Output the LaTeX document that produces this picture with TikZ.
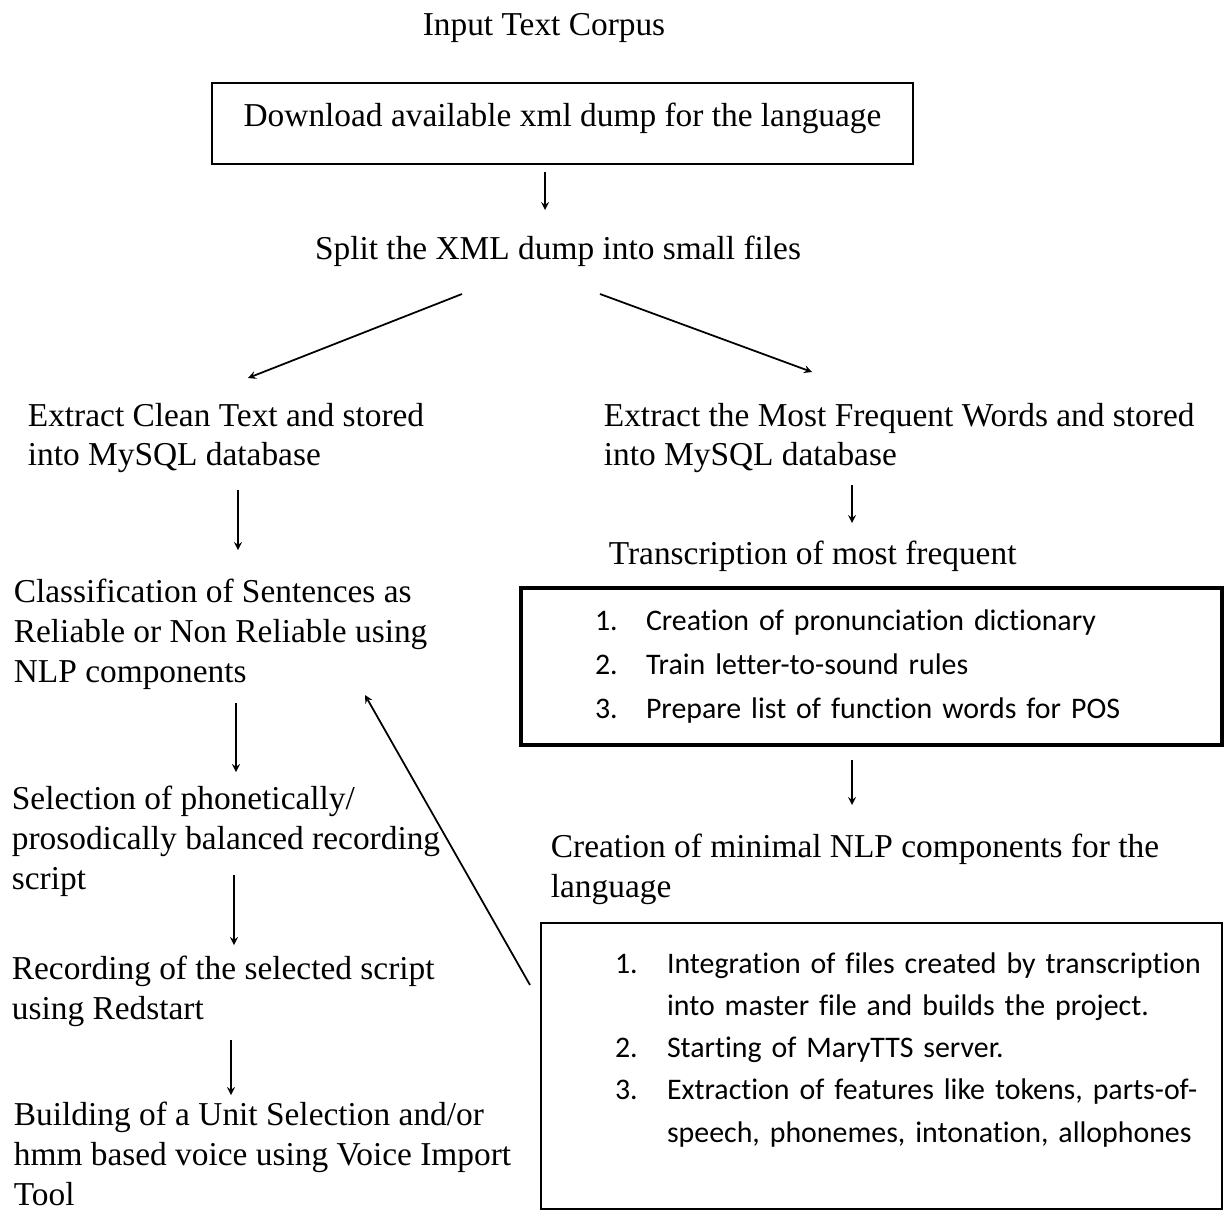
\documentclass[tikz,border=0pt]{standalone}
\usepackage{fontspec}
\setmainfont{Liberation Serif}
\newfontfamily\listfont[Ligatures=NoCommon]{Carlito}
\usetikzlibrary{positioning}

\begin{document}
\begin{tikzpicture}[x=0.02cm, y=-0.02cm, line width=1pt]
		\tikzstyle{txt}=[inner sep=0pt, align=left, font=\fontsize{19}{22.7}\selectfont]
		\tikzstyle{listbox}=[draw, inner xsep=1.48cm, inner ysep=0pt, align=left]
		\tikzstyle{arr}=[-stealth, line width=1pt]
		\useasboundingbox (0,0) rectangle (1225,1211);
		\node[txt] (corpus) at (544,28) {Input Text Corpus};
		\node[txt, draw, line width=1.1pt, minimum width=14.02cm, minimum height=1.62cm,
			text height=14pt, text depth=10.5pt] (dump) at (562.5,123.5) {Download available xml dump for the language};
		\node[txt] (split) at (558,251) {Split the XML dump into small files};
		\node[txt, anchor=west] (clean) at (27,438) {Extract Clean Text and stored\\into MySQL database};
		\node[txt, anchor=west] (freq) at (603,438) {Extract the Most Frequent Words and stored\\into MySQL database};
		\node[txt, anchor=west] (trans) at (608,556) {Transcription of most frequent};
		\node[listbox, line width=2.2pt, minimum width=14.02cm, minimum height=3.14cm, text width=11.06cm,
			font=\listfont\fontsize{17}{25}\selectfont] (lexbox) at (871.5,666.5)
		{\mbox{\makebox[1.02cm][l]{1.}Creation of pronunciation dictionary}\\
		 \mbox{\makebox[1.02cm][l]{2.}Train letter-to-sound rules}\\
		 \mbox{\makebox[1.02cm][l]{3.}Prepare list of function words for POS}};
		\node[txt, anchor=west] (minnlp) at (550,869) {Creation of minimal NLP components for the\\language};
		\node[listbox, line width=1.6pt, minimum width=13.62cm, minimum height=5.72cm, text width=10.66cm,
			font=\listfont\fontsize{17}{24}\selectfont] (marybox) at (881.5,1066)
		{\mbox{\makebox[1.04cm][l]{1.}Integration of files created by transcription}\\
		 \mbox{\hspace*{1.04cm}into master file and builds the project.}\\
		 \mbox{\makebox[1.04cm][l]{2.}Starting of MaryTTS server.}\\
		 \mbox{\makebox[1.04cm][l]{3.}Extraction of features like tokens, parts-of-}\\
		 \mbox{\hspace*{1.04cm}speech, phonemes, intonation, allophones}\\[-0.1cm]
		 \mbox{}};
		\node[txt, anchor=west] (classify) at (13,634) {Classification of Sentences as\\Reliable or Non Reliable using\\NLP components};
		\node[txt, anchor=west] (select) at (11,841) {Selection of phonetically/\\prosodically balanced recording\\script};
		\node[txt, anchor=west] (record) at (11,991) {Recording of the selected script\\using Redstart};
		\node[txt, anchor=west] (build) at (13,1154) {Building of a Unit Selection and/or\\hmm based voice using Voice Import\\Tool};
		\draw[arr] ([shift={(-17.5,48.5)}]dump.center) -- ([shift={(-13,-41)}]split.center);
		\draw[arr] ([shift={(-96,43)}]split.center) -- ([shift={(221,-60)}]clean.west);
		\draw[arr] ([shift={(42,43)}]split.center) -- ([shift={(209,-66)}]freq.west);
		\draw[arr] ([shift={(249,47)}]freq.west) -- ([shift={(244,-33)}]trans.west);
		\draw[arr] ([shift={(-19.5,93.5)}]lexbox.center) -- ([shift={(302,-64)}]minnlp.west);
		\draw[arr] ([shift={(211,52)}]clean.west) -- ([shift={(225,-84)}]classify.west);
		\draw[arr] ([shift={(223,69)}]classify.west) -- ([shift={(225,-69)}]select.west);
		\draw[arr] ([shift={(223,34)}]select.west) -- ([shift={(223,-46)}]record.west);
		\draw[arr] ([shift={(220,49)}]record.west) -- ([shift={(218,-59)}]build.west);
		\draw[arr] ([shift={(-351.5,-81)}]marybox.center) -- ([shift={(352,61)}]classify.west);
	\end{tikzpicture}
\end{document}
